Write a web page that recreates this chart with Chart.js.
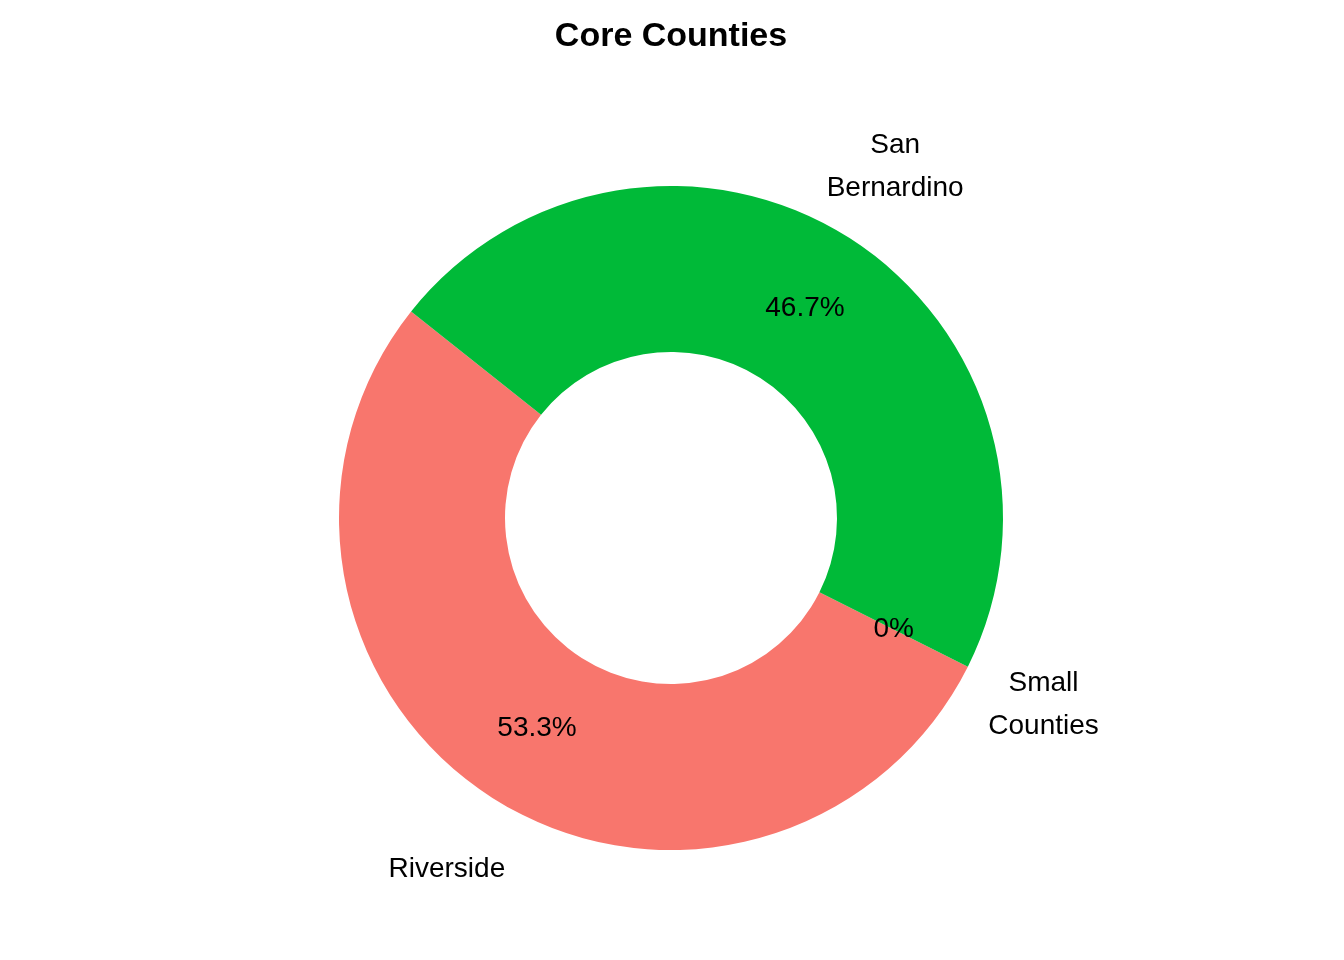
<!DOCTYPE html>
<html>
<head>
<meta charset="utf-8">
<script src="https://cdn.jsdelivr.net/npm/chart.js@4/dist/chart.umd.min.js"></script>
<style>
  body { margin: 0; background: #fff; }
  canvas { display: block; }
</style>
</head>
<body>
<canvas id="donut" width="1344" height="960"></canvas>
<script>
const categories = ["Small Counties", "Riverside", "San Bernardino"];
const labelLines = [["Small", "Counties"], ["Riverside"], ["San", "Bernardino"]];
const shares = [0, 53.3, 46.7];
const colors = ["#619CFF", "#F8766D", "#00BA38"];
const titleText = "Core Counties";

const FONT = "'Liberation Sans', Arial, sans-serif";

const labelPlugin = {
    id: "sliceLabels",
    afterDatasetsDraw(chart) {
        const ctx = chart.ctx;
        const meta = chart.getDatasetMeta(0);
        ctx.save();
        ctx.fillStyle = "#000";
        ctx.textAlign = "center";
        ctx.textBaseline = "middle";
        ctx.font = "28px " + FONT;
        meta.data.forEach((arc, i) => {
            const mid = (arc.startAngle + arc.endAngle) / 2;
            const rMid = (arc.innerRadius + arc.outerRadius) / 2;
            const px = arc.x + Math.cos(mid) * rMid;
            const py = arc.y + Math.sin(mid) * rMid;
            ctx.fillText(shares[i] + "%", px, py);
            const rOut = arc.outerRadius * 1.255;
            const lx = arc.x + Math.cos(mid) * rOut;
            const ly = arc.y + Math.sin(mid) * rOut;
            const lines = labelLines[i];
            const lh = 43;
            lines.forEach((t, k) => {
                ctx.fillText(t, lx, ly + (k - (lines.length - 1) / 2) * lh);
            });
        });
        ctx.font = "bold 34px " + FONT;
        ctx.fillText(titleText, 671, 37);
        ctx.restore();
    }
};

new Chart(document.getElementById("donut"), {
    type: "doughnut",
    data: {
        labels: categories,
        datasets: [{
            data: shares,
            backgroundColor: colors,
            borderWidth: 0
        }]
    },
    options: {
        responsive: false,
        animation: false,
        rotation: 116.6,
        cutout: "50%",
        layout: {
            padding: { top: 186, bottom: 110, left: 339, right: 341 }
        },
        plugins: {
            legend: { display: false },
            tooltip: { enabled: false },
            title: { display: false }
        }
    },
    plugins: [labelPlugin]
});
</script>
</body>
</html>
